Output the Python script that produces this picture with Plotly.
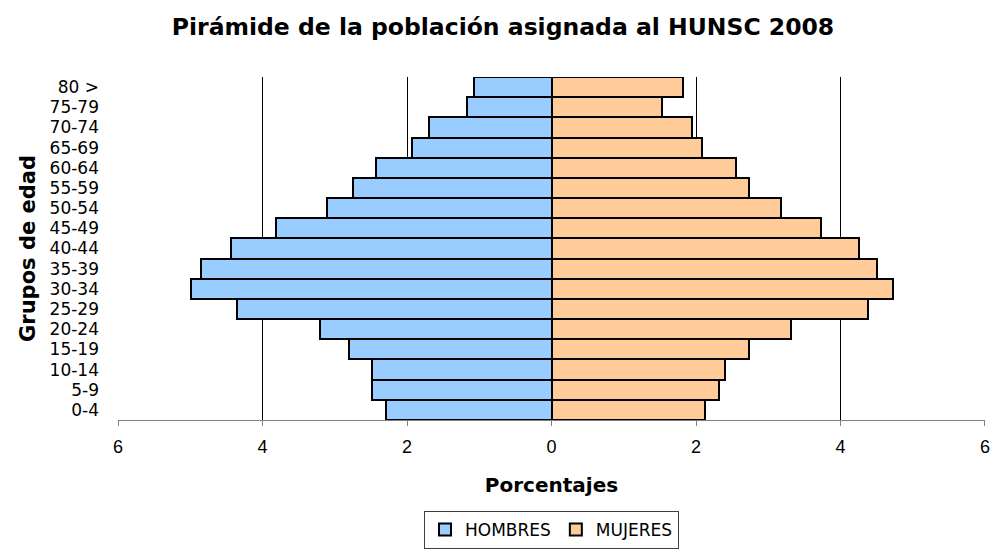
import plotly.graph_objects as go

# Grupos de edad (de abajo hacia arriba)
grupos = ['0-4', '5-9', '10-14', '15-19', '20-24', '25-29', '30-34', '35-39',
          '40-44', '45-49', '50-54', '55-59', '60-64', '65-69', '70-74', '75-79', '80 >']

# Porcentajes
hombres = [2.29, 2.48, 2.48, 2.80, 3.20, 4.35, 4.99, 4.85,
           4.43, 3.82, 3.11, 2.75, 2.43, 1.93, 1.70, 1.17, 1.07]
mujeres = [2.13, 2.32, 2.40, 2.73, 3.32, 4.38, 4.73, 4.50,
           4.25, 3.73, 3.17, 2.73, 2.55, 2.08, 1.95, 1.53, 1.82]

x_ticks = [-6, -4, -2, 0, 2, 4, 6]
x_ticktext = ['6', '4', '2', '0', '2', '4', '6']

fig = go.Figure()
fig.add_trace(go.Bar(
    y=grupos, x=[-v for v in hombres], name='HOMBRES', orientation='h',
    marker=dict(color='#99CCFF', line=dict(color='black', width=2)),
    customdata=hombres, hovertemplate='%{y}: %{customdata}%<extra>HOMBRES</extra>'
))
fig.add_trace(go.Bar(
    y=grupos, x=mujeres, name='MUJERES', orientation='h',
    marker=dict(color='#FFCC99', line=dict(color='black', width=2)),
    hovertemplate='%{y}: %{x}%<extra>MUJERES</extra>'
))

# la página añade 8px de margen, así que la figura es algo más pequeña
fig.update_layout(
    width=990, height=542,
    barmode='relative', bargap=0,
    plot_bgcolor='white', paper_bgcolor='white',
    margin=dict(l=110, r=13, t=69, b=130),
    title=dict(text='<b>Pirámide de la población asignada al HUNSC 2008</b>',
               x=0.5, xref='container', xanchor='center',
               y=0.965, yref='container', yanchor='middle',
               font=dict(family='DejaVu Sans', size=23.5, color='black')),
    legend=dict(orientation='h', x=0.5, xanchor='center', xref='paper',
                y=0.002, yanchor='bottom', yref='container',
                bordercolor='#404040', borderwidth=1,
                font=dict(family='DejaVu Sans', size=17, color='black'),
                itemwidth=30, traceorder='normal', tracegroupgap=0),
    font=dict(family='DejaVu Sans', color='black'),
)

fig.update_xaxes(
    range=[-6.0001, 6.0001], tickvals=x_ticks, ticktext=x_ticktext,
    showgrid=True, gridcolor='black', gridwidth=1, zeroline=False,
    showline=True, linecolor='#808080', linewidth=1,
    ticks='outside', ticklen=5, tickcolor='#808080', automargin=False,
    ticklabelstandoff=5,
    tickfont=dict(family='Liberation Sans', size=18, color='black'),
    title=dict(text='<b>Porcentajes</b>', standoff=22,
               font=dict(family='DejaVu Sans', size=20, color='black')),
)
fig.update_yaxes(
    tickmode='array', tickvals=grupos, ticktext=grupos,
    showgrid=False, zeroline=False, showline=False, ticks='',
    ticklabelstandoff=18, automargin=False,
    tickfont=dict(family='DejaVu Sans', size=17, color='black'),
    title=dict(text='<b>Grupos de edad</b>', standoff=8,
               font=dict(family='DejaVu Sans', size=21, color='black')),
)

fig.write_html("out.html")
